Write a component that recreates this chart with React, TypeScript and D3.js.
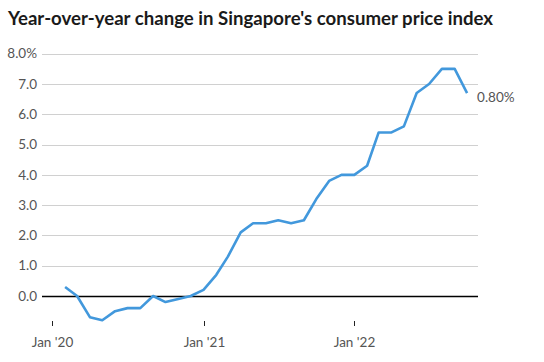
import React from 'react';
import * as d3 from 'd3';

// monthly values, Feb 2020 .. Oct 2022
const months = [
  '2020-02', '2020-03', '2020-04', '2020-05', '2020-06', '2020-07', '2020-08', '2020-09', '2020-10', '2020-11', '2020-12',
  '2021-01', '2021-02', '2021-03', '2021-04', '2021-05', '2021-06', '2021-07', '2021-08', '2021-09', '2021-10', '2021-11', '2021-12',
  '2022-01', '2022-02', '2022-03', '2022-04', '2022-05', '2022-06', '2022-07', '2022-08', '2022-09', '2022-10',
];
const cpiChange = [
  0.3, 0.0, -0.7, -0.8, -0.5, -0.4, -0.4, 0.0, -0.2, -0.1, 0.0,
  0.2, 0.7, 1.3, 2.1, 2.4, 2.4, 2.5, 2.4, 2.5, 3.2, 3.8, 4.0,
  4.0, 4.3, 5.4, 5.4, 5.6, 6.7, 7.0, 7.5, 7.5, 6.7,
];
const yTicks = [0, 1, 2, 3, 4, 5, 6, 7, 8];
const xTicks = ['2020-01', '2021-01', '2022-01'];
const endLabel = '0.80%';
const title = "Year-over-year change in Singapore's consumer price index";

const parse = d3.timeParse('%Y-%m');

export default function App() {
  const width = 544;
  const height = 362;
  const left = 42;
  const right = 478;

  const x = d3.scaleTime()
    .domain([parse('2020-01')!, parse('2022-01')!])
    .range([52.3, 354.3]);
  const y = d3.scaleLinear().domain([0, 8]).range([296, 53.7]);

  const data = months.map((m, i) => ({ date: parse(m)!, value: cpiChange[i] }));
  const line = d3.line<{ date: Date; value: number }>()
    .x(d => x(d.date))
    .y(d => y(d.value));

  const last = data[data.length - 1];
  const font = "Lato, 'Open Sans', sans-serif";
  const zeroY = Math.round(y(0)) + 0.5;

  return (
    <div style={{ position: 'absolute', left: 0, top: 0 }}>
      <svg width={width} height={height} style={{ display: 'block', background: '#fff' }}>
        <text
          x={8}
          y={25}
          fontFamily={font}
          fontWeight={700}
          fontSize={18.5}
          textLength={485}
          lengthAdjust="spacingAndGlyphs"
          fill="#1a1a1a"
        >
          {title}
        </text>

        {yTicks.map(t => (
          <g key={t}>
            {t !== 0 && (
              <line
                x1={left}
                x2={right}
                y1={Math.round(y(t)) + 0.5}
                y2={Math.round(y(t)) + 0.5}
                stroke="#d0d0d0"
                strokeWidth={1}
              />
            )}
            <text
              x={37}
              y={y(t)}
              dy="0.35em"
              textAnchor="end"
              fontFamily={font}
              fontSize={13.5}
              fill="#555"
            >
              {t === 8 ? '8.0%' : t.toFixed(1)}
            </text>
          </g>
        ))}

        <line x1={left} x2={right} y1={zeroY} y2={zeroY} stroke="#000" strokeWidth={1.5} />

        {xTicks.map(t => {
          const px = Math.round(x(parse(t)!)) + 0.5;
          const yr = t.slice(2, 4);
          return (
            <g key={t}>
              <line x1={px} x2={px} y1={321} y2={326} stroke="#222" strokeWidth={1} />
              <text x={px} y={347} textAnchor="middle" fontFamily={font} fontSize={13.5} fill="#555">
                {`Jan '${yr}`}
              </text>
            </g>
          );
        })}

        <path
          d={line(data) ?? ''}
          fill="none"
          stroke="#4298dc"
          strokeWidth={2.6}
          strokeLinejoin="round"
        />

        <text
          x={x(last.date) + 10}
          y={y(last.value) + 4}
          dy="0.35em"
          fontFamily={font}
          fontSize={13.5}
          fill="#555"
        >
          {endLabel}
        </text>
      </svg>
    </div>
  );
}
